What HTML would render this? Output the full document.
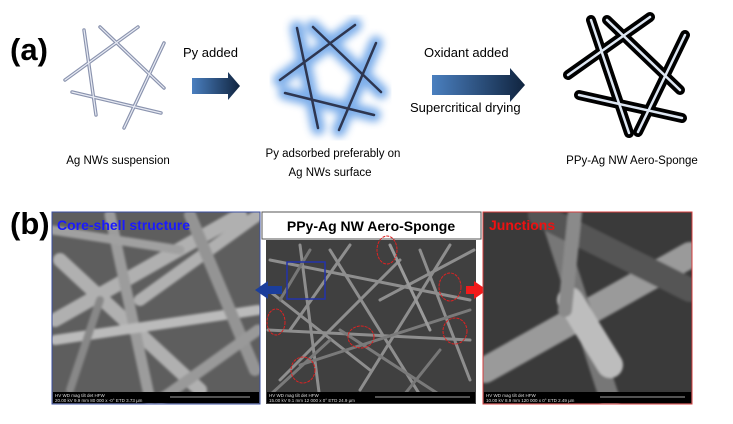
<!DOCTYPE html>
<html><head><meta charset="utf-8"><style>
body{margin:0;background:#fff;}
svg{display:block;}
text{font-family:"Liberation Sans",sans-serif;}
</style></head><body>
<svg width="733" height="424" viewBox="0 0 733 424" xmlns="http://www.w3.org/2000/svg">
<defs>
<linearGradient id="ar" x1="0" x2="1"><stop offset="0" stop-color="#4a7fbf"/><stop offset="1" stop-color="#10243f"/></linearGradient>
<filter id="bl"><feGaussianBlur stdDeviation="4"/></filter>
<filter id="b1"><feGaussianBlur stdDeviation="1.2"/></filter>
<clipPath id="cL"><rect x="52" y="212" width="208" height="192"/></clipPath>
<clipPath id="cM"><rect x="266" y="240" width="210" height="164"/></clipPath>
<clipPath id="cR"><rect x="483" y="212" width="209" height="192"/></clipPath>
</defs>
<rect width="733" height="424" fill="#fff"/>
<text x="10" y="60" font-size="31" font-weight="bold">(a)</text>
<g stroke="#8a93ae" stroke-width="3.5" stroke-linecap="round">
<line x1="84" y1="30" x2="96" y2="115"/><line x1="100" y1="27" x2="164" y2="88"/>
<line x1="138" y1="27" x2="65" y2="80"/><line x1="164" y1="43" x2="124" y2="128"/>
<line x1="72" y1="92" x2="161" y2="113"/></g>
<g stroke="#e8ebf4" stroke-width="1.2" stroke-linecap="round">
<line x1="84" y1="30" x2="96" y2="115"/><line x1="100" y1="27" x2="164" y2="88"/>
<line x1="138" y1="27" x2="65" y2="80"/><line x1="164" y1="43" x2="124" y2="128"/>
<line x1="72" y1="92" x2="161" y2="113"/></g>
<text x="183" y="57" font-size="13">Py added</text>
<polygon points="192,78 228,78 228,72 240,86 228,100 228,94 192,94" fill="url(#ar)"/>
<g stroke="#6fa6e8" stroke-width="14" stroke-linecap="round" filter="url(#bl)" opacity="0.9">
<line x1="297" y1="28" x2="318" y2="128"/><line x1="313" y1="27" x2="381" y2="92"/>
<line x1="355" y1="25" x2="280" y2="80"/><line x1="376" y1="43" x2="339" y2="130"/>
<line x1="285" y1="93" x2="374" y2="115"/></g>
<g stroke="#2e3650" stroke-width="2.5" stroke-linecap="round">
<line x1="297" y1="28" x2="318" y2="128"/><line x1="313" y1="27" x2="381" y2="92"/>
<line x1="355" y1="25" x2="280" y2="80"/><line x1="376" y1="43" x2="339" y2="130"/>
<line x1="285" y1="93" x2="374" y2="115"/></g>
<text x="424" y="57" font-size="13">Oxidant added</text>
<polygon points="432,75 510,75 510,68 525,85 510,102 510,95 432,95" fill="url(#ar)"/>
<text x="410" y="112" font-size="13">Supercritical drying</text>
<g stroke="#000" stroke-width="10" stroke-linecap="round">
<line x1="591" y1="20" x2="629" y2="133"/><line x1="607" y1="20" x2="680" y2="90"/>
<line x1="650" y1="17" x2="568" y2="75"/><line x1="685" y1="35" x2="638" y2="132"/>
<line x1="579" y1="95" x2="682" y2="118"/></g>
<g stroke="#dde6f2" stroke-width="2.5" stroke-linecap="round">
<line x1="591" y1="20" x2="629" y2="133"/><line x1="607" y1="20" x2="680" y2="90"/>
<line x1="650" y1="17" x2="568" y2="75"/><line x1="685" y1="35" x2="638" y2="132"/>
<line x1="579" y1="95" x2="682" y2="118"/></g>
<g font-size="11.5">
<text x="118" y="164" text-anchor="middle">Ag NWs suspension</text>
<text x="333" y="157" text-anchor="middle">Py adsorbed preferably on</text>
<text x="330" y="176" text-anchor="middle">Ag NWs surface</text>
<text x="632" y="164" text-anchor="middle">PPy-Ag NW Aero-Sponge</text>
</g>
<text x="10" y="234" font-size="31" font-weight="bold">(b)</text>
<rect x="52" y="212" width="208" height="192" fill="#5e5e5e"/>
<g clip-path="url(#cL)"><g stroke="#b0b0b0" stroke-linecap="round" filter="url(#b1)">
<line x1="55" y1="320" x2="240" y2="215" stroke-width="14"/>
<line x1="60" y1="260" x2="200" y2="390" stroke-width="14"/>
<line x1="110" y1="215" x2="150" y2="400" stroke-width="11" stroke="#9c9c9c"/>
<line x1="140" y1="300" x2="258" y2="215" stroke-width="12"/>
<line x1="55" y1="340" x2="258" y2="310" stroke-width="10" stroke="#bbb"/>
<line x1="190" y1="215" x2="255" y2="370" stroke-width="12" stroke="#949494"/>
<line x1="52" y1="230" x2="180" y2="250" stroke-width="9" stroke="#a0a0a0"/>
<line x1="160" y1="400" x2="258" y2="330" stroke-width="11" stroke="#999"/>
<line x1="70" y1="390" x2="100" y2="300" stroke-width="8" stroke="#888"/>
</g></g>
<rect x="52" y="212" width="208" height="192" fill="none" stroke="#3b4fa0" stroke-width="1"/>
<text x="57" y="230" font-size="14" font-weight="bold" fill="#1a1aff">Core-shell structure</text>
<rect x="262" y="212" width="219" height="27" fill="#fff" stroke="#555"/>
<text x="371" y="231" font-size="14" font-weight="bold" text-anchor="middle">PPy-Ag NW Aero-Sponge</text>
<rect x="266" y="240" width="210" height="164" fill="#404040"/>
<g clip-path="url(#cM)"><g stroke="#8e8e8e" stroke-width="3" stroke-linecap="round">
<line x1="270" y1="260" x2="470" y2="300"/><line x1="300" y1="245" x2="320" y2="400"/>
<line x1="330" y1="250" x2="420" y2="395"/><line x1="450" y1="245" x2="360" y2="390"/>
<line x1="268" y1="330" x2="470" y2="340"/><line x1="280" y1="380" x2="400" y2="260"/>
<line x1="420" y1="250" x2="470" y2="380"/><line x1="350" y1="245" x2="290" y2="330"/>
<line x1="380" y1="300" x2="474" y2="250"/><line x1="268" y1="290" x2="370" y2="370"/>
<line x1="300" y1="365" x2="470" y2="310" stroke="#7a7a7a"/><line x1="340" y1="330" x2="440" y2="395" stroke="#7a7a7a"/>
<line x1="390" y1="245" x2="430" y2="330" stroke="#9a9a9a"/><line x1="270" y1="395" x2="330" y2="340" stroke="#7a7a7a"/>
<line x1="310" y1="250" x2="280" y2="300" stroke="#777"/><line x1="440" y1="350" x2="400" y2="400" stroke="#777"/>
</g></g>
<g fill="none" stroke="#d22" stroke-width="1" stroke-dasharray="3,1">
<ellipse cx="387" cy="250" rx="10" ry="14"/><ellipse cx="450" cy="287" rx="11" ry="14"/>
<ellipse cx="276" cy="322" rx="9" ry="13"/><ellipse cx="361" cy="337" rx="13" ry="11"/>
<ellipse cx="455" cy="331" rx="12" ry="13"/><ellipse cx="303" cy="370" rx="12" ry="13"/>
</g>
<rect x="287" y="262" width="38" height="37" fill="none" stroke="#2233aa" stroke-width="1.5"/>
<polygon points="255,290 268,281 268,286 282,286 282,294 268,294 268,299" fill="#1b3e9c"/>
<polygon points="487,290 474,281 474,286 466,286 466,294 474,294 474,299" fill="#f21b1b"/>
<rect x="483" y="212" width="209" height="192" fill="#3a3a3a"/>
<g clip-path="url(#cR)"><g stroke-linecap="round" filter="url(#b1)">
<line x1="485" y1="370" x2="690" y2="255" stroke="#9a9a9a" stroke-width="26"/>
<line x1="550" y1="215" x2="610" y2="400" stroke="#777" stroke-width="20"/>
<line x1="540" y1="215" x2="690" y2="290" stroke="#555" stroke-width="24"/>
<line x1="570" y1="300" x2="610" y2="365" stroke="#bdbdbd" stroke-width="26"/>
<line x1="575" y1="212" x2="565" y2="310" stroke="#8a8a8a" stroke-width="14"/>
</g></g>
<rect x="483" y="212" width="209" height="192" fill="none" stroke="#d43c3c"/>
<text x="489" y="230" font-size="14" font-weight="bold" fill="#ee1111">Junctions</text>
<g fill="#000"><rect x="53" y="392" width="206" height="11"/><rect x="267" y="392" width="208" height="11"/><rect x="484" y="392" width="207" height="11"/></g>
<g fill="#ddd" font-size="4.5">
<text x="55" y="397">HV   WD   mag   tilt  det  HFW</text><text x="55" y="402">20.00 kV 9.9 mm 80 000 x -0° ETD 3.73 µm</text>
<text x="269" y="397">HV   WD   mag   tilt  det  HFW</text><text x="269" y="402">15.00 kV 9.1 mm 12 000 x 0° ETD 24.9 µm</text>
<text x="486" y="397">HV   WD   mag   tilt  det  HFW</text><text x="486" y="402">10.00 kV 8.9 mm 120 000 x 0° ETD 2.49 µm</text>
</g>
<g stroke="#ddd" stroke-width="0.8"><line x1="170" y1="397" x2="250" y2="397"/><line x1="375" y1="397" x2="470" y2="397"/><line x1="600" y1="397" x2="685" y2="397"/></g>
</svg>
</body></html>
